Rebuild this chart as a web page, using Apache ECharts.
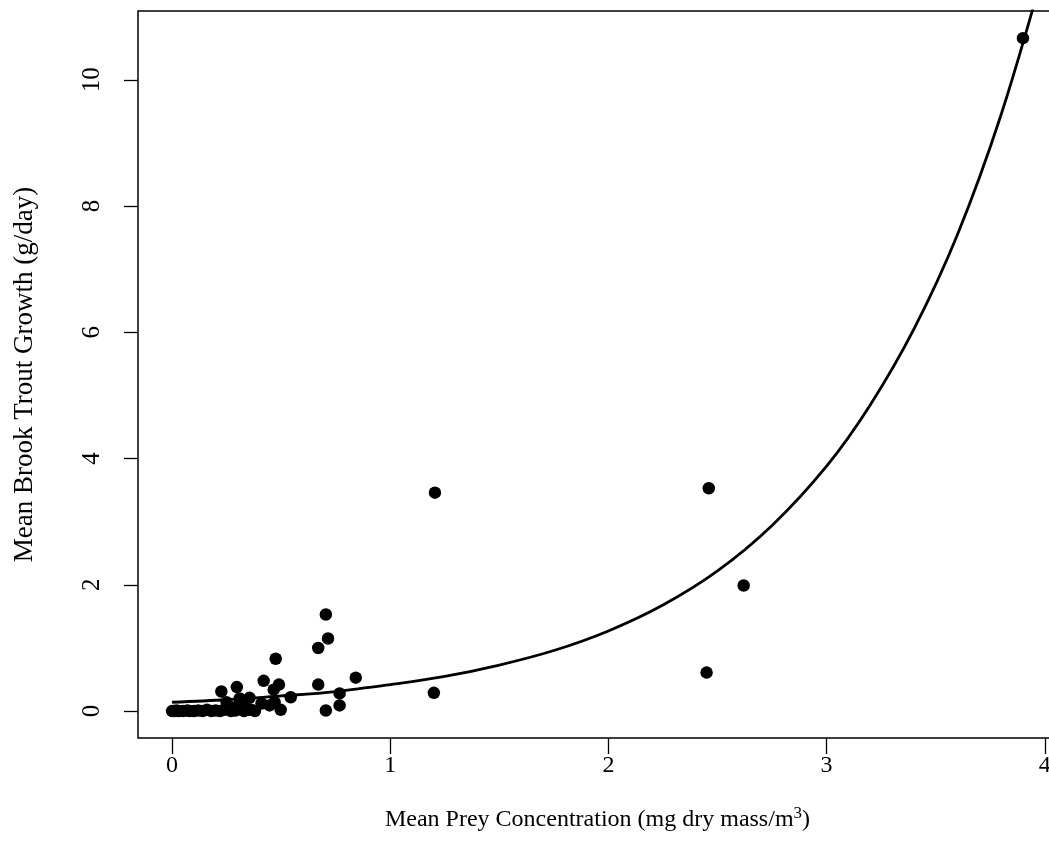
<!DOCTYPE html>
<html>
<head>
<meta charset="utf-8">
<title>Brook trout growth vs prey concentration</title>
<script src="https://cdn.jsdelivr.net/npm/echarts@6/dist/echarts.min.js"></script>
<style>
  html, body { margin: 0; padding: 0; background: #fff; overflow: hidden; }
  /* plot box extends slightly past the right edge of the page */
  #chart { width: 1058px; height: 866px; }
</style>
</head>
<body>
<div id="chart"></div>
<script>
// Observed site means: prey concentration (mg dry mass/m^3) and trout growth (g/day)
const preyConc = [
  3.90, 1.205, 2.46, 2.62, 2.45, 1.20,
  0.705, 0.715, 0.67, 0.475, 0.842, 0.67, 0.42, 0.49, 0.297, 0.226,
  0.544, 0.768, 0.768, 0.705, 0.498, 0.466, 0.47, 0.41, 0.447, 0.363,
  0.355, 0.31, 0.25, 0.33, 0.29, 0.28,
  0.00, 0.01, 0.02, 0.03, 0.05, 0.07, 0.08, 0.10, 0.12, 0.14, 0.16,
  0.18, 0.20, 0.22, 0.24, 0.27, 0.29, 0.31, 0.33, 0.35, 0.38
];
const troutGrowth = [
  10.66, 3.46, 3.53, 1.99, 0.61, 0.29,
  1.53, 1.15, 1.00, 0.83, 0.53, 0.42, 0.48, 0.42, 0.38, 0.31,
  0.22, 0.28, 0.09, 0.01, 0.02, 0.34, 0.14, 0.12, 0.09, 0.02,
  0.21, 0.20, 0.14, 0.10, 0.06, 0.04,
  0.00, 0.00, 0.01, 0.00, 0.00, 0.01, 0.00, 0.00, 0.01, 0.00, 0.02,
  0.00, 0.01, 0.00, 0.02, 0.00, 0.01, 0.03, 0.00, 0.02, 0.00
];

// Fitted exponential growth curve, sampled along x
const fitX = [0, 0.25, 0.5, 0.75, 1, 1.25, 1.5, 1.75, 2, 2.25, 2.5, 2.75, 3, 3.2, 3.4, 3.6, 3.8, 4.0];
const fitY = [0.14, 0.18, 0.24, 0.31, 0.42, 0.55, 0.73, 0.96, 1.27, 1.68, 2.22, 2.94, 3.88, 4.85, 6.05, 7.55, 9.45, 11.8];

// Axis ticks
const xTicks = [0, 1, 2, 3, 4];
const yTicks = [0, 2, 4, 6, 8, 10];

const serif = '"Liberation Serif", "DejaVu Serif", serif';

const points = preyConc.map((x, i) => [x, troutGrowth[i]]);
const curve = fitX.map((x, i) => [x, fitY[i]]);

const chart = echarts.init(document.getElementById('chart'), null, { renderer: 'canvas' });

chart.setOption({
  backgroundColor: '#ffffff',
  animation: false,
  grid: {
    show: true,
    left: 138,
    top: 11,
    right: 1,
    bottom: 128,
    borderColor: '#000',
    borderWidth: 1.5,
    backgroundColor: 'transparent'
  },
  xAxis: {
    type: 'value',
    min: -0.156,
    max: 4.056,
    splitLine: { show: false },
    axisLine: { show: false, onZero: false },
    axisTick: {
      show: true,
      customValues: xTicks,
      length: 16,
      inside: false,
      lineStyle: { color: '#000', width: 1.3 }
    },
    axisLabel: {
      customValues: xTicks,
      margin: 16,
      color: '#000',
      fontFamily: serif,
      fontSize: 24
    },
    name: 'Mean Prey Concentration (mg dry mass/m{sup|3})',
    nameLocation: 'middle',
    nameGap: 67,
    nameTextStyle: {
      color: '#000',
      fontFamily: serif,
      fontSize: 24,
      lineHeight: 29,
      rich: {
        sup: {
          fontFamily: serif,
          fontSize: 17,
          lineHeight: 17,
          verticalAlign: 'top',
          color: '#000'
        }
      }
    }
  },
  yAxis: {
    type: 'value',
    min: -0.426,
    max: 11.09,
    splitLine: { show: false },
    axisLine: { show: false, onZero: false },
    axisTick: {
      show: true,
      customValues: yTicks,
      length: 14,
      inside: false,
      lineStyle: { color: '#000', width: 1.3 }
    },
    axisLabel: {
      customValues: yTicks,
      rotate: 90,
      margin: 33,
      color: '#000',
      fontFamily: serif,
      fontSize: 25
    },
    name: 'Mean Brook Trout Growth (g/day)',
    nameLocation: 'middle',
    nameGap: 100,
    nameTextStyle: {
      color: '#000',
      fontFamily: serif,
      fontSize: 27
    }
  },
  series: [
    {
      type: 'scatter',
      data: points,
      symbol: 'circle',
      symbolSize: 12.5,
      itemStyle: { color: '#000', opacity: 1 },
      z: 2
    },
    {
      type: 'line',
      data: curve,
      smooth: 0.35,
      showSymbol: false,
      clip: true,
      lineStyle: { color: '#000', width: 2.8 },
      z: 3
    }
  ]
});
</script>
</body>
</html>
